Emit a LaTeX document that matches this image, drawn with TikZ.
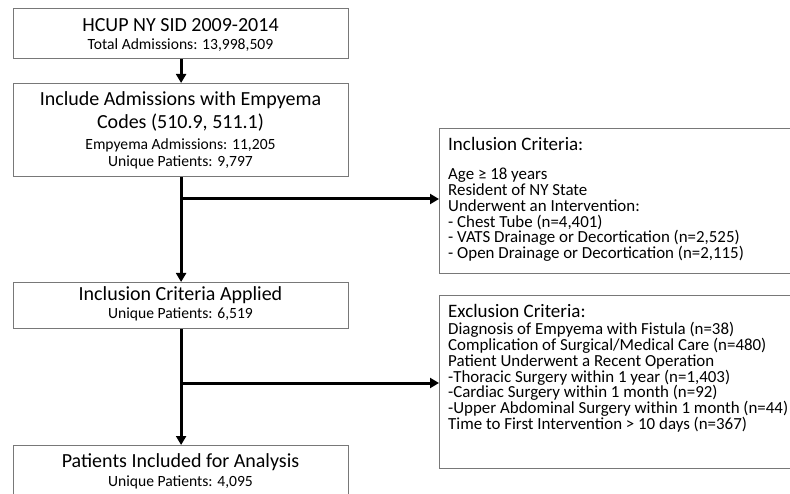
\documentclass[tikz,border=0pt]{standalone}
\usepackage{fontspec}
\setmainfont{Carlito}
\usetikzlibrary{arrows.meta}
\definecolor{boxgray}{RGB}{120,120,120}
\begin{document}
\begin{tikzpicture}[x=1pt,y=-1pt,
  box/.style={draw=boxgray, line width=1.2pt, fill=white, anchor=north west, inner sep=0pt},
  conn/.style={line width=3pt, -{Triangle[length=9pt,width=10pt]}},
  big/.style={font=\fontsize{20}{24}\selectfont, anchor=base, inner sep=0pt},
  small/.style={font=\fontsize{15.6}{18}\selectfont, anchor=base, inner sep=0pt},
  crit/.style={font=\fontsize{19}{22}\selectfont, anchor=base west, inner sep=0pt},
  item/.style={font=\fontsize{16.9}{19}\selectfont, anchor=base west, inner sep=0pt}]
\useasboundingbox (0,0) rectangle (790,494);
\clip (0,0) rectangle (790,494);
\fill[white] (0,0) rectangle (790,494);

% boxes
\node[box, minimum width=335pt, minimum height=50pt] (b1) at (13,8) {};
\node[box, minimum width=335pt, minimum height=93pt] (b2) at (13,83) {};
\node[box, minimum width=335pt, minimum height=46pt] (b3) at (13,282) {};
\node[box, minimum width=335pt, minimum height=80pt] (b4) at (13,445) {};
\node[box, minimum width=400pt, minimum height=145pt] (inc) at (439,128) {};
\node[box, minimum width=400pt, minimum height=173pt] (exc) at (439,295) {};

% left column text
\node[big]   (t1a) at (180.5,31.5) {HCUP NY SID 2009-2014};
\node[small] (t1b) at (180.5,49.5) {Total Admissions: 13,998,509};
\node[big]   (t2a) at (180.5,105.5) {Include Admissions with Empyema};
\node[big]   (t2b) at (180.5,129) {Codes (510.9, 511.1)};
\node[small] (t2c) at (180.5,149.5) {Empyema Admissions: 11,205};
\node[small] (t2d) at (180.5,167) {Unique Patients: 9,797};
\node[big]   (t3a) at (180.5,300.5) {Inclusion Criteria Applied};
\node[small] (t3b) at (180.5,318.5) {Unique Patients: 6,519};
\node[big]   (t4a) at (180.5,467) {Patients Included for Analysis};
\node[small] (t4b) at (180.5,486) {Unique Patients: 4,095};

% inclusion criteria text
\node[crit] (i0) at (448,151) {Inclusion Criteria:};
\node[item] (i1) at (448,180) {Age ≥ 18 years};
\node[item] (i2) at (448,196) {Resident of NY State};
\node[item] (i3) at (448,211.7) {Underwent an Intervention:};
\node[item] (i4) at (448,227.3) {- Chest Tube (n=4,401)};
\node[item] (i5) at (448,243) {- VATS Drainage or Decortication (n=2,525)};
\node[item] (i6) at (448,259) {- Open Drainage or Decortication (n=2,115)};

% exclusion criteria text
\node[crit] (e0) at (448,317.3) {Exclusion Criteria:};
\node[item] (e1) at (448,335) {Diagnosis of Empyema with Fistula (n=38)};
\node[item] (e2) at (448,350.7) {Complication of Surgical/Medical Care (n=480)};
\node[item] (e3) at (448,366.3) {Patient Underwent a Recent Operation};
\node[item] (e4) at (448,382) {-Thoracic Surgery within 1 year (n=1,403)};
\node[item] (e5) at (448,397.6) {-Cardiac Surgery within 1 month (n=92)};
\node[item] (e6) at (448,413.3) {-Upper Abdominal Surgery within 1 month (n=44)};
\node[item] (e7) at (448,429) {Time to First Intervention > 10 days (n=367)};

% connectors
\coordinate (j1) at (180.5,199);
\coordinate (j2) at (180.5,383);
\draw[conn] (b1.south) -- (b2.north);
\draw[conn] (b2.south) -- (b3.north);
\draw[conn] (b3.south) -- (b4.north);
\draw[conn] (j1) -- (j1 -| inc.west);
\draw[conn] (j2) -- (j2 -| exc.west);
\end{tikzpicture}
\end{document}
